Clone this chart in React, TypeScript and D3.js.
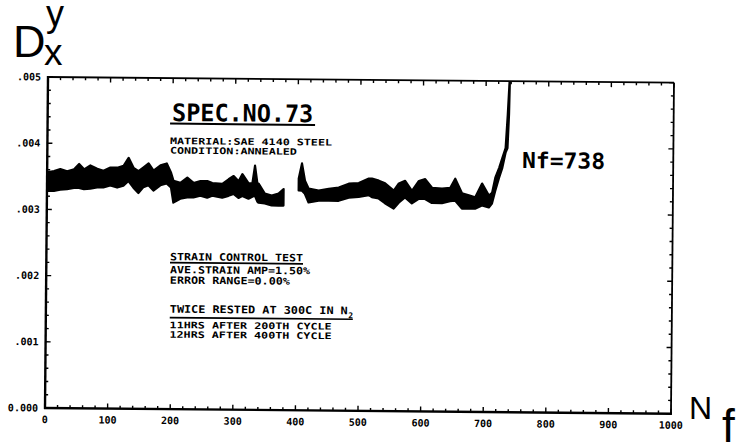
import * as d3 from 'd3'

// D_x^y (x 10^-3), as upper / lower edge of the noisy trace
const cycles = [
  0, 11, 21, 32, 43, 51, 59, 69, 80, 90, 101, 112, 122, 130, 138, 146, 154, 162, 170, 181, 191, 198,
  202, 213, 224, 234, 245, 256, 264, 280, 290, 298, 306, 312, 322, 328, 332, 336, 338, 348, 359, 370, 378,
  390,
  402, 407, 412, 418, 434, 450, 466, 482, 498, 514, 519, 530, 540, 554, 562, 572, 583, 594, 604, 615, 631, 644,
  652, 663, 674, 684, 695, 706, 711, 716, 722, 727, 732, 735, 737, 738,
]
const upper = [
  3.56, 3.58, 3.61, 3.58, 3.61, 3.69, 3.61, 3.67, 3.62, 3.59, 3.64, 3.64, 3.67, 3.79, 3.64, 3.59, 3.65, 3.71, 3.6, 3.68, 3.71, 3.57,
  3.45, 3.42, 3.5, 3.42, 3.45, 3.45, 3.42, 3.41, 3.48, 3.53, 3.45, 3.56, 3.42, 3.42, 3.69, 3.42, 3.42, 3.27, 3.24, 3.27, 3.34,
  null,
  3.5, 3.73, 3.47, 3.35, 3.32, 3.35, 3.37, 3.43, 3.44, 3.51, 3.51, 3.48, 3.44, 3.33, 3.44, 3.48, 3.33, 3.48, 3.51, 3.38, 3.37, 3.38,
  3.52, 3.3, 3.27, 3.24, 3.45, 3.27, 3.31, 3.54, 3.69, 3.84, 3.99, 4.5, 4.92, 5.1,
]
const lower = [
  3.28, 3.28, 3.3, 3.31, 3.33, 3.33, 3.31, 3.32, 3.34, 3.34, 3.37, 3.34, 3.37, 3.44, 3.34, 3.26, 3.35, 3.38, 3.3, 3.38, 3.41, 3.35,
  3.12, 3.18, 3.2, 3.2, 3.23, 3.2, 3.23, 3.2, 3.23, 3.26, 3.2, 3.23, 3.19, 3.22, 3.24, 3.15, 3.13, 3.12, 3.09, 3.09, 3.09,
  null,
  3.32, 3.32, 3.27, 3.14, 3.17, 3.17, 3.17, 3.22, 3.23, 3.26, 3.23, 3.21, 3.14, 3.06, 3.15, 3.23, 3.14, 3.21, 3.21, 3.15, 3.15, 3.18,
  3.19, 3.07, 3.07, 3.07, 3.12, 3.09, 3.15, 3.34, 3.54, 3.69, 3.92, 3.99, 4.5, 5.1,
]

const xTickLabels = ['0', '100', '200', '300', '400', '500', '600', '700', '800', '900', '1000']
const yTickLabels = ['0.000', '.001', '.002', '.003', '.004', '.005']

const specTitle = 'SPEC.NO.73'
const materialLines = ['MATERIAL:SAE 4140 STEEL', 'CONDITION:ANNEALED']
const testTitle = 'STRAIN CONTROL TEST'
const testLines = ['AVE.STRAIN AMP=1.50%', 'ERROR RANGE=0.00%']
const restTitle = 'TWICE RESTED AT 300C IN N'
const restLines = ['11HRS AFTER 200TH CYCLE', '12HRS AFTER 400TH CYCLE']
const failLabel = 'Nf=738'

const mono = '"DejaVu Sans Mono", monospace'
const sans = '"Liberation Sans", Arial, sans-serif'

export default function App() {
  const left = 45, right = 671, top = 77, bottom = 408

  const x = d3.scaleLinear().domain([0, 1000]).range([left, right])
  const y = d3.scaleLinear().domain([0, 5]).range([bottom, top])

  const pts = cycles.map((c, i) => ({ c, hi: upper[i], lo: lower[i] }))
  const band = d3.area<{ c: number; hi: number | null; lo: number | null }>()
    .defined(d => d.hi != null)
    .x(d => x(d.c))
    .y0(d => y(d.lo as number))
    .y1(d => y(d.hi as number))

  const xMinor = d3.range(0, 1001, 20)
  const yMinor = d3.range(0, 5.01, 0.2)

  return (
    <svg width={738} height={448} style={{ position: 'fixed', left: 0, top: 0, background: '#fff' }}>
      <defs>
        <clipPath id="plot">
          <rect x={left} y={top} width={right - left} height={bottom - top} />
        </clipPath>
      </defs>

      {/* the scan is slightly rotated */}
      <g transform={`rotate(0.52 ${left} ${bottom})`}>
        {/* trace */}
        <path d={band(pts) || ''} fill="#000" stroke="#000" strokeWidth={2.2} strokeLinejoin="round" clipPath="url(#plot)" />

        {/* frame */}
        <line x1={left} x2={right} y1={top} y2={top} stroke="#000" strokeWidth={1.8} />
        <line x1={right} x2={right} y1={top} y2={bottom} stroke="#000" strokeWidth={1.8} />
        <line x1={left} x2={left} y1={top - 1} y2={bottom + 1} stroke="#000" strokeWidth={2.4} />
        <line x1={left - 1} x2={right + 1} y1={bottom} y2={bottom} stroke="#000" strokeWidth={2.4} />

        {/* ticks */}
        {xMinor.map(t => {
          const len = t % 100 === 0 ? 5 : 3
          return (
            <g key={'xt' + t} stroke="#000" strokeWidth={1.4}>
              <line x1={x(t)} x2={x(t)} y1={bottom} y2={bottom - len} />
              <line x1={x(t)} x2={x(t)} y1={top} y2={top + len} />
            </g>
          )
        })}
        {yMinor.map((t, i) => {
          const len = i % 5 === 0 ? 5 : 3
          return (
            <g key={'yt' + i} stroke="#000" strokeWidth={1.4}>
              <line x1={left} x2={left + len} y1={y(t)} y2={y(t)} />
              <line x1={right} x2={right - len} y1={y(t)} y2={y(t)} />
            </g>
          )
        })}

        {/* tick labels */}
        {xTickLabels.map((s, i) => (
          <text key={'xl' + s} x={x(i * 100)} y={423} textAnchor="middle" fontFamily={mono} fontWeight="bold" fontSize={10}>{s}</text>
        ))}
        {yTickLabels.map((s, i) => (
          <text key={'yl' + s} x={38} y={y(i)} dy="0.35em" textAnchor="end" fontFamily={mono} fontWeight="bold" fontSize={10}>{s}</text>
        ))}

        {/* annotations */}
        <text x={169.5} y={119.8} fontFamily={mono} fontWeight="bold" fontSize={24} textLength={141} lengthAdjust="spacingAndGlyphs">{specTitle}</text>
        <line x1={167.5} x2={312.5} y1={122.5} y2={122.5} stroke="#000" strokeWidth={2} />
        {materialLines.map((s, i) => (
          <text key={s} x={167.6} y={143 + i * 9.5} fontFamily={mono} fontWeight="bold" fontSize={9}
            textLength={i === 0 ? 162 : 127} lengthAdjust="spacingAndGlyphs">{s}</text>
        ))}

        <text x={519.8} y={163.7} fontFamily={mono} fontWeight="bold" fontSize={22} textLength={83} lengthAdjust="spacingAndGlyphs">{failLabel}</text>

        <text x={168.7} y={259} fontFamily={mono} fontWeight="bold" fontSize={10} textLength={133} lengthAdjust="spacingAndGlyphs">{testTitle}</text>
        <line x1={168.7} x2={301.7} y1={261.5} y2={261.5} stroke="#000" strokeWidth={1.6} />
        {testLines.map((s, i) => (
          <text key={s} x={168.7} y={272 + i * 10.5} fontFamily={mono} fontWeight="bold" fontSize={10}
            textLength={i === 0 ? 140 : 120} lengthAdjust="spacingAndGlyphs">{s}</text>
        ))}

        <text x={168.9} y={311.5} fontFamily={mono} fontWeight="bold" fontSize={10.5} textLength={178} lengthAdjust="spacingAndGlyphs">{restTitle}</text>
        <text x={347.5} y={315.5} fontFamily={mono} fontWeight="bold" fontSize={8}>2</text>
        <line x1={168.9} x2={352} y1={316.5} y2={316.5} stroke="#000" strokeWidth={1.6} />
        {restLines.map((s, i) => (
          <text key={s} x={168.9} y={327 + i * 9.5} fontFamily={mono} fontWeight="bold" fontSize={9}
            textLength={162} lengthAdjust="spacingAndGlyphs">{s}</text>
        ))}
      </g>

      {/* axis names */}
      <text x={13} y={57} fontFamily={sans} fontSize={45}>D</text>
      <text x={46} y={26} fontFamily={sans} fontSize={36}>y</text>
      <text x={44} y={65} fontFamily={sans} fontSize={37}>x</text>
      <text x={689} y={419} fontFamily={sans} fontSize={32}>N</text>
      <text x={722} y={442} fontFamily={sans} fontSize={46}>f</text>
    </svg>
  )
}
